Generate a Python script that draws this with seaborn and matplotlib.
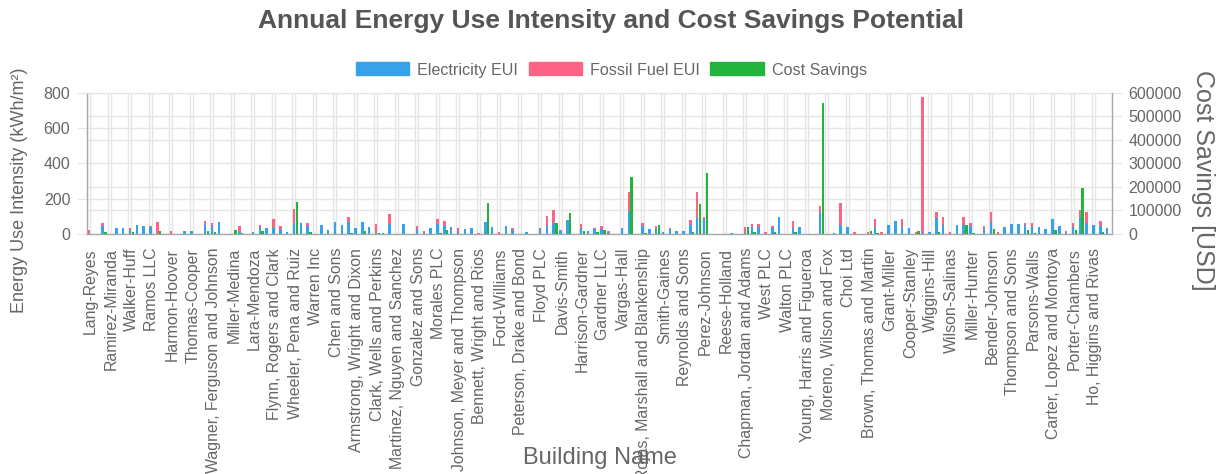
import numpy as np
import pandas as pd
import matplotlib
matplotlib.use("Agg")
import matplotlib.pyplot as plt
from matplotlib.patches import Patch
from matplotlib.ticker import FixedLocator
import seaborn as sns

buildings = [
    "Lang-Reyes", "Hughes Group", "Patel-Morgan", "Ramirez-Miranda", "Baker Inc",
    "Santos and Sons", "Walker-Huff", "Kim LLC", "Nelson, Hart and Diaz", "Ramos LLC",
    "Fischer-Long", "Rowe PLC", "Harmon-Hoover", "Green Ltd", "Collins-Reed",
    "Thomas-Cooper", "Payne Group", "Ortiz and Sons", "Wagner, Ferguson and Johnson", "Bishop-Stone",
    "Lee Inc", "Miller-Medina", "Duncan LLC", "Ward, Price and Hall", "Lara-Mendoza",
    "Sutton-Gray", "Knight PLC", "Flynn, Rogers and Clark", "Wong Ltd", "Hayes-Carr",
    "Wheeler, Pena and Ruiz", "Parker Group", "Shaw-Burke", "Warren Inc", "Fox and Sons",
    "Rivera-Cole", "Chen and Sons", "Mason LLC", "Barnes-Young", "Armstrong, Wright and Dixon",
    "Webb PLC", "Howard-Lane", "Clark, Wells and Perkins", "Stewart Inc", "Perry-Bell",
    "Martinez, Nguyen and Sanchez", "Holt Ltd", "Spencer-Ross", "Gonzalez and Sons", "Curtis LLC",
    "Lowe-Harper", "Morales PLC", "Jordan Group", "Vaughn-Adams", "Johnson, Meyer and Thompson",
    "Bates Inc", "Ellis-Mack", "Bennett, Wright and Rios", "Frost and Sons", "Gibson-Kerr",
    "Ford-Williams", "Dean LLC", "Wolfe-Norris", "Peterson, Drake and Bond", "Hunt PLC",
    "Marsh-Owens", "Floyd PLC", "Castro Ltd", "Graham-Pierce", "Davis-Smith",
    "Moss Group", "Tran-Bailey", "Harrison-Gardner", "Byrd Inc", "Lyons-Mills",
    "Gardner LLC", "Page and Sons", "Riley-Watts", "Vargas-Hall", "Hodge PLC",
    "Keller-Sims", "Rojas, Marshall and Blankenship", "Hale Ltd", "Cannon-Moore", "Smith-Gaines",
    "Dixon Group", "Reid-Foster", "Reynolds and Sons", "Conner Inc", "Jensen-Wade",
    "Perez-Johnson", "Burns LLC", "Quinn-Harris", "Reese-Holland", "Novak PLC",
    "Fuller-Grant", "Chapman, Jordan and Adams", "Hicks Ltd", "Logan-Ayala", "West PLC",
    "Snyder Group", "Mejia-Cruz", "Walton PLC", "Bowen Inc", "Sharp-Lucas",
    "Young, Harris and Figueroa", "Olson LLC", "Daniel-Brooks", "Moreno, Wilson and Fox", "Tucker and Sons",
    "Hart-Morrow", "Choi Ltd", "Gill PLC", "Rhodes-Kelly", "Brown, Thomas and Martin",
    "Strong Group", "Booth-Wilkins", "Grant-Miller", "Mccoy Inc", "Pratt-Black",
    "Cooper-Stanley", "Ray LLC", "Hopkins-Weber", "Wiggins-Hill", "Lamb and Sons",
    "Arnold-Glover", "Wilson-Salinas", "Cross PLC", "Mueller-Ward", "Miller-Hunter",
    "Schultz Ltd", "Tate-Hamilton", "Bender-Johnson", "Kane Group", "Haley-Rocha",
    "Thompson and Sons", "Nash Inc", "Watkins-Carey", "Parsons-Walls", "Clay LLC",
    "Frank-Ochoa", "Carter, Lopez and Montoya", "Garza and Sons", "Berry-Sloan", "Porter-Chambers",
    "Little PLC", "Hensley-Vance", "Ho, Higgins and Rivas", "Dunn Ltd", "Mcdonald-Bauer",
]

# kWh/m² per year
electricity_eui = [
    2, 0, 47, 0, 36, 32, 23, 49, 47, 40,
    2, 0, 2, 0, 17, 19, 0, 51, 47, 68,
    0, 2, 13, 0, 11, 42, 36, 36, 28, 11,
    64, 60, 47, 0, 49, 25, 68, 49, 70, 32,
    68, 38, 5, 6, 57, 0, 57, 0, 28, 5,
    32, 57, 47, 40, 17, 30, 32, 0, 66, 40,
    2, 47, 23, 0, 11, 0, 26, 47, 60, 17,
    79, 0, 36, 19, 28, 28, 4, 0, 36, 132,
    0, 47, 28, 28, 10, 26, 17, 17, 49, 92,
    83, 0, 0, 0, 4, 0, 4, 42, 38, 2,
    32, 98, 0, 36, 40, 0, 0, 121, 0, 3,
    49, 40, 2, 0, 2, 38, 2, 51, 74, 38,
    32, 2, 3, 11, 89, 49, 2, 53, 51, 47,
    0, 30, 68, 2, 42, 55, 57, 51, 38, 42,
    28, 83, 45, 3, 42, 94, 60, 51, 47, 36,
]

fossil_eui = [
    20, 0, 17, 0, 0, 0, 13, 0, 0, 7,
    68, 0, 15, 0, 0, 0, 0, 23, 15, 0,
    0, 0, 32, 0, 0, 9, 0, 47, 19, 0,
    76, 0, 15, 0, 0, 0, 0, 0, 28, 0,
    0, 0, 50, 0, 58, 0, 0, 0, 16, 12,
    0, 26, 25, 0, 15, 0, 0, 3, 4, 0,
    8, 0, 9, 0, 0, 0, 10, 55, 76, 7,
    0, 0, 22, 0, 8, 16, 15, 0, 0, 104,
    0, 13, 0, 17, 0, 10, 0, 0, 29, 146,
    15, 0, 0, 0, 0, 0, 34, 13, 19, 8,
    12, 0, 0, 36, 0, 0, 0, 37, 0, 0,
    129, 0, 8, 0, 8, 45, 8, 0, 0, 45,
    0, 8, 772, 0, 36, 49, 9, 0, 43, 15,
    0, 17, 55, 8, 0, 0, 0, 13, 24, 0,
    0, 0, 0, 16, 22, 42, 63, 0, 29, 0,
]

# USD per year
cost_savings = [
    0, 0, 8500, 0, 0, 0, 7000, 0, 0, 0,
    12800, 0, 0, 0, 0, 0, 0, 14000, 10000, 0,
    0, 17000, 5500, 0, 0, 12800, 0, 0, 0, 0,
    135000, 0, 10000, 0, 0, 0, 0, 0, 5500, 0,
    11000, 0, 4000, 0, 0, 0, 0, 0, 0, 0,
    0, 3000, 18000, 0, 0, 0, 0, 0, 133000, 0,
    0, 0, 0, 0, 0, 0, 2000, 0, 47000, 0,
    88000, 0, 14000, 0, 8000, 18000, 0, 0, 0, 241000,
    0, 5000, 0, 37000, 0, 0, 0, 0, 8500, 128000,
    258000, 0, 0, 0, 0, 0, 31000, 10000, 0, 0,
    7000, 0, 0, 9000, 0, 0, 0, 558000, 0, 0,
    0, 0, 0, 0, 11000, 5000, 0, 0, 0, 0,
    0, 11000, 0, 0, 7000, 0, 0, 0, 40000, 3000,
    0, 0, 20000, 0, 0, 0, 0, 17000, 5000, 0,
    0, 18000, 0, 0, 18000, 195000, 0, 0, 8000, 0,
]

series_names = ["Electricity EUI", "Fossil Fuel EUI", "Cost Savings"]
series_colors = ["#36A2EB", "#FF6384", "#23B43C"]

eui_ticks = [0, 200, 400, 600, 800]
cost_ticks = [0, 100000, 200000, 300000, 400000, 500000, 600000]

TEXT = "#666666"
TITLE = "#555555"
GRID = "#e5e5e5"
AXIS_LINE = "#a8a8a8"

sns.set_style("white")
plt.rcParams["font.family"] = ["Liberation Sans", "DejaVu Sans"]

df = pd.DataFrame({
    "building": buildings,
    "electricity": electricity_eui,
    "fossil": fossil_eui,
    "cost": cost_savings,
})
df["pos"] = np.arange(len(df))
df["eui_total"] = df["electricity"] + df["fossil"]

W, H = 1216, 474
fig = plt.figure(figsize=(W / 100, H / 100), dpi=100)
ax = fig.add_axes([87 / W, 1 - 234 / H, (1112 - 87) / W, (234 - 93) / H])
ax2 = ax.twinx()

shift = 0.2
bar_w = 0.36
common = dict(native_scale=True, width=bar_w, saturation=1, errorbar=None,
              orient="x", linewidth=0, zorder=3)

# stacked EUI column: fossil on top of electricity
sns.barplot(x=df["pos"] - shift, y=df["eui_total"], color=series_colors[1], ax=ax, **common)
sns.barplot(x=df["pos"] - shift, y=df["electricity"], color=series_colors[0], ax=ax, **common)
# cost savings column on the secondary axis
sns.barplot(x=df["pos"] + shift, y=df["cost"], color=series_colors[2], ax=ax2, **common)

n = len(df)
for a in (ax, ax2):
    a.set_xlabel("")
    a.set_ylabel("")
ax.set_xlim(-0.5, n - 0.5)

ax.set_ylim(eui_ticks[0], eui_ticks[-1])
ax2.set_ylim(cost_ticks[0], cost_ticks[-1])
ax.set_yticks(eui_ticks)
ax2.set_yticks(cost_ticks)
ax.set_yticklabels([str(t) for t in eui_ticks])
ax2.set_yticklabels([str(t) for t in cost_ticks])

# cost gridlines drawn on the primary axis, converted through both scales
scale = (eui_ticks[-1] - eui_ticks[0]) / (cost_ticks[-1] - cost_ticks[0])
ax.yaxis.set_minor_locator(FixedLocator([c * scale for c in cost_ticks]))

# every third building is labelled; gridlines sit on the category edges
label_idx = df["pos"].values[::3]
ax.xaxis.set_major_locator(FixedLocator(label_idx))
ax.set_xticklabels(df["building"].values[::3], rotation=90, fontsize=11.4, color=TEXT)
ax.xaxis.set_minor_locator(FixedLocator(label_idx - 0.5))

ax.grid(True, which="both", color=GRID, linewidth=1.0, zorder=0)
ax.set_axisbelow(True)
ax2.grid(False)

ax.tick_params(axis="x", which="major", length=0, pad=10)
ax.tick_params(axis="x", which="minor", length=9, color=GRID, width=1.0)
ax.tick_params(axis="y", which="major", length=7, color=GRID, labelsize=11.5, labelcolor=TEXT, pad=5)
ax.tick_params(axis="y", which="minor", length=0)
ax2.tick_params(axis="y", which="major", length=7, color=GRID, labelsize=11.5, labelcolor=TEXT, pad=5)

for s in ("left", "bottom"):
    ax.spines[s].set_color(AXIS_LINE)
    ax.spines[s].set_linewidth(1.0)
ax.spines["top"].set_color(GRID)
ax.spines["right"].set_visible(False)
for s in ("left", "top", "bottom"):
    ax2.spines[s].set_visible(False)
ax2.spines["right"].set_color(AXIS_LINE)
ax2.spines["right"].set_linewidth(1.0)

fig.text(611.5 / W, 1 - 21 / H, "Annual Energy Use Intensity and Cost Savings Potential",
         ha="center", va="center", fontsize=19, fontweight="bold", color=TITLE)

handles = [Patch(facecolor=c, edgecolor=c, label=l) for c, l in zip(series_colors, series_names)]
fig.legend(handles=handles, loc="center", bbox_to_anchor=(611.5 / W, 1 - 70 / H), ncol=3,
           frameon=False, fontsize=11.6, handlelength=3.3, handleheight=0.85,
           handletextpad=0.5, columnspacing=0.65, labelcolor=TEXT)

fig.text(20 / W, 1 - 190 / H, "Energy Use Intensity (kWh/m²)", rotation=90,
         ha="center", va="center", fontsize=13, color=TEXT)
fig.text(1203 / W, 1 - 180 / H, "Cost Savings [USD]", rotation=-90,
         ha="center", va="center", fontsize=18, color=TEXT)
fig.text(599.5 / W, 1 - 458 / H, "Building Name",
         ha="center", va="center", fontsize=17, color=TEXT)

fig.savefig("out.png", dpi=100)
